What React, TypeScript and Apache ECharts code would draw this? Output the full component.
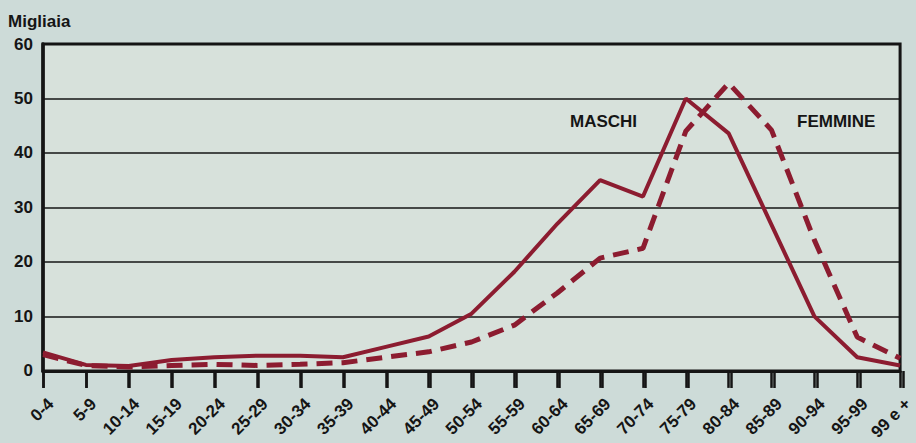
import React, { useEffect, useRef } from "react";
import * as echarts from "echarts";

const ageGroups = [
  "0-4", "5-9", "10-14", "15-19", "20-24", "25-29", "30-34", "35-39", "40-44", "45-49",
  "50-54", "55-59", "60-64", "65-69", "70-74", "75-79", "80-84", "85-89", "90-94", "95-99", "99 e +",
];
const maschi = [3.4, 1.1, 0.9, 2.0, 2.5, 2.8, 2.8, 2.5, 4.4, 6.3, 10.5, 18.2, 27.0, 35.0, 32.0, 50.0, 43.6, 26.8, 10.0, 2.5, 1.0];
const femmine = [3.0, 1.0, 0.7, 1.0, 1.2, 1.0, 1.2, 1.5, 2.5, 3.5, 5.3, 8.4, 14.3, 20.7, 22.5, 44.0, 52.8, 44.2, 24.0, 6.2, 2.3];
const yTicks = [0, 10, 20, 30, 40, 50, 60];

const LINE = "#8c1c30";
const INK = "#151515";
const FONT = "'Liberation Sans', Arial, sans-serif";

export default function App() {
  const ref = useRef<HTMLDivElement>(null);
  useEffect(() => {
    document.body.style.margin = "0";
    document.body.style.background = "#cddbd8";
    const chart = echarts.init(ref.current!, null, { renderer: "svg" });
    chart.setOption({
      animation: false,
      backgroundColor: "#cddbd8",
      textStyle: { fontFamily: FONT },
      grid: [
        {
          left: 43, right: 13, top: 44, bottom: 72,
          show: true,
          backgroundColor: "#d7e1db",
          borderColor: INK,
          borderWidth: 3,
        },
        { left: 43, right: 13, top: 371, height: 17, show: false },
      ],
      xAxis: [
        {
          type: "category",
          gridIndex: 0,
          data: ageGroups,
          boundaryGap: false,
          axisLine: { show: true, lineStyle: { color: INK, width: 3 } },
          axisTick: { show: true, interval: 0, length: 17, lineStyle: { color: INK, width: 2.5 } },
          axisLabel: {
            interval: 0,
            rotate: 45,
            margin: 38,
            padding: [0, -11, 0, 0],
            color: INK,
            fontSize: 17,
            fontWeight: "bold",
            fontFamily: FONT,
          },
          splitLine: { show: false },
        },
        {
          type: "category",
          gridIndex: 1,
          data: ageGroups,
          boundaryGap: false,
          axisLine: { show: false },
          axisTick: { show: false },
          axisLabel: { show: false },
          splitLine: { show: true, interval: 0, lineStyle: { color: INK, width: 2.5 } },
        },
      ],
      yAxis: [
        {
          type: "value",
          gridIndex: 0,
          min: yTicks[0],
          max: yTicks[yTicks.length - 1],
          interval: 10,
          name: "Migliaia",
          nameLocation: "end",
          nameGap: 14,
          nameTextStyle: {
            color: INK,
            fontSize: 17,
            fontWeight: "bold",
            align: "left",
            padding: [0, 0, 0, -35],
            fontFamily: FONT,
          },
          axisLine: { show: true, lineStyle: { color: INK, width: 3.5 } },
          axisTick: { show: false },
          axisLabel: {
            color: INK,
            fontSize: 17,
            fontWeight: "bold",
            margin: 10,
            fontFamily: FONT,
          },
          splitLine: { show: true, lineStyle: { color: INK, width: 1.6 } },
        },
        {
          type: "value",
          gridIndex: 1,
          min: 0,
          max: 1,
          show: false,
          splitLine: { show: false },
        },
      ],
      series: [
        {
          name: "MASCHI",
          type: "line",
          data: maschi,
          symbol: "none",
          lineStyle: { color: LINE, width: 4 },
          z: 3,
        },
        {
          name: "FEMMINE",
          type: "line",
          data: femmine,
          symbol: "none",
          lineStyle: { color: LINE, width: 5, type: [16, 9] },
          z: 4,
        },
      ],
      graphic: [
        {
          type: "text",
          left: 570,
          top: 113,
          style: { text: "MASCHI", fill: INK, font: `bold 17px ${FONT}` },
        },
        {
          type: "text",
          left: 797,
          top: 113,
          style: { text: "FEMMINE", fill: INK, font: `bold 17px ${FONT}` },
        },
      ],
    });
    return () => chart.dispose();
  }, []);
  return <div ref={ref} style={{ width: 916, height: 443 }} />;
}
